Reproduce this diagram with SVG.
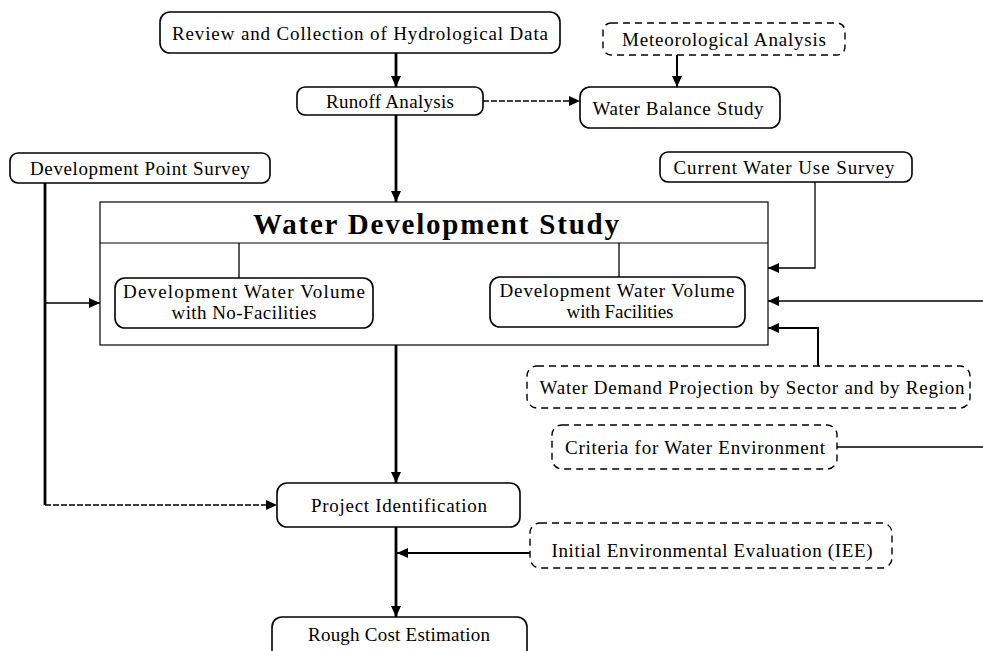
<svg xmlns="http://www.w3.org/2000/svg" width="983" height="651" viewBox="0 0 983 651">
<defs>
<marker id="ah" markerUnits="userSpaceOnUse" markerWidth="11" markerHeight="10" refX="11" refY="5" orient="auto"><path d="M0,0 L11,5 L0,10 z" fill="#000"/></marker>
</defs>
<style>
.box{fill:#fff;stroke:#000;stroke-width:1.6}
.dbox{fill:#fff;stroke:#000;stroke-width:1.4;stroke-dasharray:7 5}
.frame{fill:none;stroke:#000;stroke-width:1.2}
text{font-family:"Liberation Serif","Times New Roman",serif;font-size:19px;fill:#000;text-anchor:middle;dominant-baseline:central}
.title{font-size:29px;font-weight:bold}
.thick{stroke:#000;stroke-width:2.8;fill:none}
.med{stroke:#000;stroke-width:2;fill:none}
.thin{stroke:#000;stroke-width:1.3;fill:none}
.dash{stroke-dasharray:6 2}
</style>
<rect x="0" y="0" width="983" height="651" fill="#fff"/>
<g id="connectors">
<line class="thick" x1="396" y1="53" x2="396" y2="87" marker-end="url(#ah)"/>
<line class="med" x1="677" y1="55" x2="677" y2="87" marker-end="url(#ah)"/>
<line class="thin dash" x1="483" y1="101" x2="580" y2="101" marker-end="url(#ah)"/>
<line class="thick" x1="396" y1="115" x2="396" y2="202" marker-end="url(#ah)"/>
<line class="thick" x1="45" y1="183" x2="45" y2="505"/>
<line class="thin dash" x1="45" y1="505" x2="277" y2="505" marker-end="url(#ah)"/>
<line class="thin" x1="45" y1="303" x2="100" y2="303" marker-end="url(#ah)"/>
<polyline class="thin" points="815,182 815,268 768,268" marker-end="url(#ah)"/>
<line class="thin" x1="983" y1="301" x2="768" y2="301" marker-end="url(#ah)"/>
<polyline class="med" points="818,366 818,328 768,328" marker-end="url(#ah)"/>
<line class="thin" x1="837" y1="447" x2="983" y2="447"/>
<line class="thick" x1="396" y1="345" x2="396" y2="483" marker-end="url(#ah)"/>
<line class="thick" x1="396" y1="527" x2="396" y2="617" marker-end="url(#ah)"/>
<line class="med" x1="530" y1="553" x2="397" y2="553" marker-end="url(#ah)"/>
<line class="thin" x1="239" y1="243" x2="239" y2="278"/>
<line class="thin" x1="619" y1="243" x2="619" y2="277"/>
</g>
<g id="review"><rect class="box" x="160" y="12" width="400" height="41" rx="10"/><text x="360" y="33" textLength="376">Review and Collection of Hydrological Data</text></g>
<g id="meteo"><rect class="dbox" x="603" y="23" width="242" height="32" rx="8"/><text x="724" y="39" textLength="204">Meteorological Analysis</text></g>
<g id="runoff"><rect class="box" x="297" y="87" width="186" height="28" rx="8"/><text x="390" y="101" textLength="128">Runoff Analysis</text></g>
<g id="waterbalance"><rect class="box" x="580" y="87" width="200" height="41" rx="10"/><text x="678" y="108" textLength="171">Water Balance Study</text></g>
<g id="devpoint"><rect class="box" x="10" y="153" width="260" height="30" rx="8"/><text x="140" y="168" textLength="220">Development Point Survey</text></g>
<g id="currentuse"><rect class="box" x="660" y="152" width="252" height="30" rx="8"/><text x="784" y="167" textLength="221">Current Water Use Survey</text></g>
<g id="wds">
<rect class="frame" x="100" y="202" width="668" height="143"/>
<line class="frame" x1="100" y1="243" x2="768" y2="243"/>
<text class="title" x="436" y="224" textLength="366">Water Development Study</text>
</g>
<g id="nofac"><rect class="box" x="115" y="278" width="258" height="50" rx="10"/><text x="244" y="291" textLength="242">Development Water Volume</text><text x="244" y="312" textLength="145">with No-Facilities</text></g>
<g id="withfac"><rect class="box" x="490" y="277" width="255" height="50" rx="10"/><text x="617" y="290" textLength="235">Development Water Volume</text><text x="620" y="311" textLength="107">with Facilities</text></g>
<g id="demand"><rect class="dbox" x="527" y="366" width="443" height="42" rx="10"/><text x="752" y="387" textLength="425">Water Demand Projection by Sector and by Region</text></g>
<g id="criteria"><rect class="dbox" x="552" y="425" width="285" height="44" rx="10"/><text x="695" y="447" textLength="260">Criteria for Water Environment</text></g>
<g id="project"><rect class="box" x="277" y="483" width="243" height="44" rx="10"/><text x="399" y="505" textLength="176">Project Identification</text></g>
<g id="iee"><rect class="dbox" x="530" y="523" width="362" height="45" rx="10"/><text x="712" y="550" textLength="321">Initial Environmental Evaluation (IEE)</text></g>
<g id="rough"><rect class="box" x="272" y="617" width="255" height="44" rx="10"/><text x="399" y="634" textLength="182">Rough Cost Estimation</text></g>
</svg>
